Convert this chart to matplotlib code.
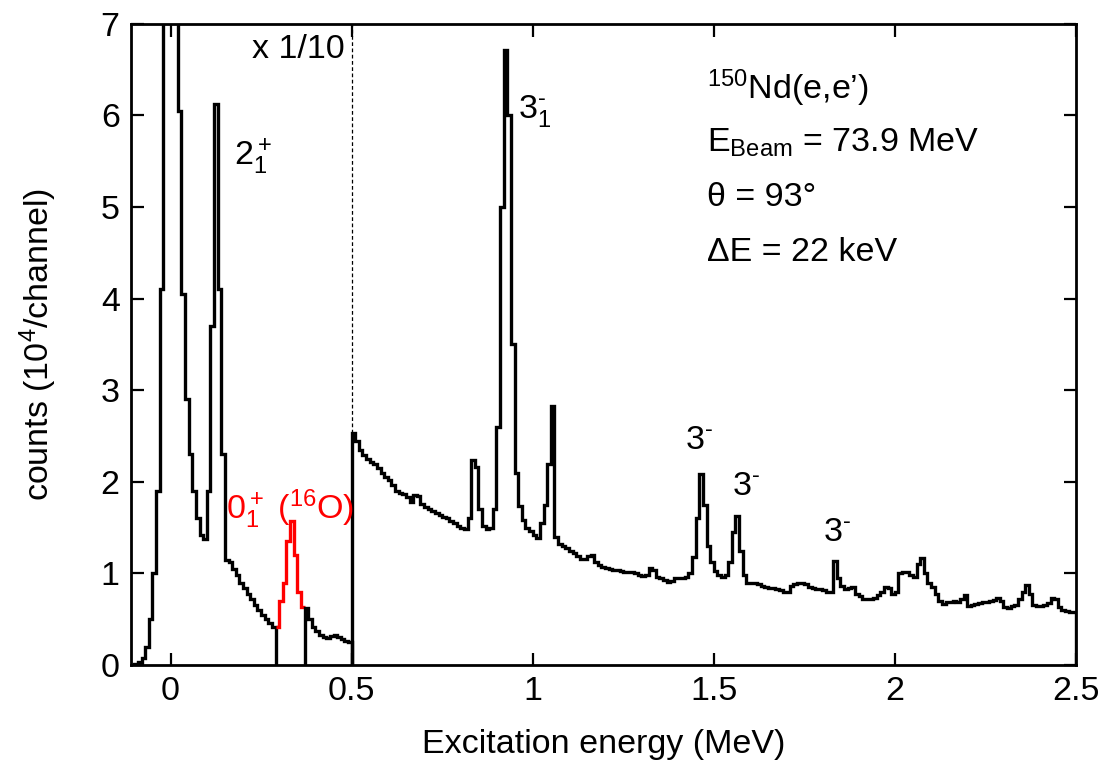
import numpy as np
import matplotlib
matplotlib.use("Agg")
import matplotlib.pyplot as plt

plt.rcParams['font.family'] = ['Liberation Sans', 'DejaVu Sans']
plt.rcParams['mathtext.fontset'] = 'custom'
plt.rcParams['mathtext.rm'] = 'Liberation Sans'
plt.rcParams['mathtext.it'] = 'Liberation Sans'
plt.rcParams['mathtext.bf'] = 'Liberation Sans:bold'

# channel width 10 keV, spectrum starts at -0.11 MeV
e_start = -0.11
bin_w = 0.01

# below 0.5 MeV the spectrum is scaled x 1/10
counts_low = [0.0, 0.01, 0.03, 0.08, 0.2, 0.5, 1.0, 1.9, 4.1, 9.0,
              12.0, 12.0, 9.0, 6.05, 4.05, 2.9, 2.3, 1.9, 1.6, 1.42,
              1.38, 1.9, 3.7, 6.12, 4.1, 2.3, 1.15, 1.12, 1.05, 0.98,
              0.9, 0.84, 0.78, 0.72, 0.66, 0.6, 0.55, 0.5, 0.46, 0.42]
# 16O ground state contamination (red)
counts_o16 = [0.42, 0.7, 0.9, 1.35, 1.57, 1.2, 0.8, 0.63]
counts_mid = [0.62, 0.5, 0.42, 0.37, 0.33, 0.31, 0.3, 0.32, 0.33, 0.31,
              0.28, 0.26, 0.25]
counts_high = [2.53, 2.45, 2.35, 2.29, 2.25, 2.22, 2.2, 2.15, 2.1, 2.05,
               2.02, 1.97, 1.9, 1.88, 1.87, 1.83, 1.78, 1.86, 1.84, 1.76,
               1.72, 1.7, 1.68, 1.66, 1.64, 1.62, 1.6, 1.57, 1.55, 1.52,
               1.5, 1.49, 1.6, 2.24, 2.16, 1.7, 1.52, 1.48, 1.5, 1.7,
               2.6, 5.0, 6.72, 6.0, 3.5, 2.1, 1.74, 1.58, 1.5, 1.46,
               1.42, 1.39, 1.55, 1.75, 2.2, 2.83, 1.4, 1.32, 1.3, 1.28,
               1.25, 1.22, 1.19, 1.16, 1.16, 1.19, 1.2, 1.12, 1.09, 1.07,
               1.06, 1.05, 1.04, 1.04, 1.03, 1.02, 1.02, 1.01, 1.0, 0.98,
               0.97, 0.98, 1.06, 1.04, 0.96, 0.95, 0.93, 0.91, 0.92, 0.95,
               0.95, 0.95, 0.96, 1.0, 1.18, 1.6, 2.09, 1.75, 1.3, 1.12,
               1.03, 0.98, 0.96, 0.98, 1.12, 1.45, 1.63, 1.25, 0.98, 0.9,
               0.89, 0.89, 0.88, 0.86, 0.85, 0.84, 0.84, 0.83, 0.82, 0.8,
               0.8, 0.86, 0.88, 0.9, 0.9, 0.88, 0.85, 0.84, 0.83, 0.83,
               0.82, 0.8, 0.8, 1.13, 0.95, 0.86, 0.83, 0.84, 0.85, 0.78,
               0.75, 0.72, 0.72, 0.72, 0.73, 0.76, 0.8, 0.85, 0.84, 0.77,
               0.8, 1.0, 1.02, 1.01, 0.98, 0.96, 1.1, 1.17, 1.0, 0.9,
               0.85, 0.78, 0.7, 0.67, 0.69, 0.69, 0.7, 0.69, 0.72, 0.76,
               0.64, 0.66, 0.67, 0.68, 0.69, 0.69, 0.7, 0.71, 0.73, 0.7,
               0.63, 0.62, 0.64, 0.66, 0.72, 0.8, 0.87, 0.78, 0.65, 0.64,
               0.64, 0.65, 0.68, 0.73, 0.72, 0.63, 0.6, 0.59, 0.58, 0.58]

segments = [counts_low, counts_o16, counts_mid, counts_high]
n_total = sum(len(s) for s in segments)
edges = np.round(e_start + bin_w * np.arange(n_total + 1), 4)

fig = plt.figure(figsize=(11.08, 7.71), dpi=100)
ax = fig.add_axes([0.118, 0.1375, 0.853, 0.8315])

lw = 2.4
i0 = 0
for k, seg in enumerate(segments):
    e = edges[i0:i0 + len(seg) + 1]
    if k == 1:
        ax.stairs(seg, e, color='red', lw=lw, baseline=None)
    else:
        ax.stairs(seg, e, color='black', lw=lw, baseline=0)
    i0 += len(seg)

# dashed separator at 0.5 MeV
ax.plot([0.5, 0.5], [counts_high[0], 7], color='black', lw=0.9,
        ls=(0, (3, 2)))

ax.set_xlim(-0.11, 2.5)
ax.set_ylim(0, 7)
ax.set_xticks([0, 0.5, 1, 1.5, 2, 2.5])
ax.set_xticklabels(['0', '0.5', '1', '1.5', '2', '2.5'])
ax.set_yticks(range(8))
ax.tick_params(direction='in', length=9, width=1.6, top=True, right=True,
               labelsize=24.5, pad=8)
for sp in ax.spines.values():
    sp.set_linewidth(2.0)

ax.set_xlabel('Excitation energy (MeV)', fontsize=24.5, labelpad=16)
ax.set_ylabel('counts (10$^4$/channel)', fontsize=24.5, labelpad=30)

fs = 24.5
hy = '\u2010'
ax.text(0.48, 6.72, 'x 1/10', fontsize=fs, ha='right', va='center')
ax.text(0.175, 5.55, '2$^+_1$', fontsize=fs, ha='left', va='center')
ax.text(0.33, 1.7, '0$^+_1$ ($^{16}$O)', fontsize=fs, ha='center',
        va='center', color='red')
ax.text(0.96, 6.05, '3$^{' + hy + '}_1$', fontsize=fs, ha='left', va='center')
ax.text(1.46, 2.45, '3$^{' + hy + '}$', fontsize=fs, ha='center', va='center')
ax.text(1.59, 1.95, '3$^{' + hy + '}$', fontsize=fs, ha='center', va='center')
ax.text(1.84, 1.45, '3$^{' + hy + '}$', fontsize=fs, ha='center', va='center')

info = ['$^{150}$Nd(e,e’)', 'E$_{\\rm Beam}$ = 73.9 MeV', 'θ = 93°',
        'ΔE = 22 keV']
for j, s in enumerate(info):
    ax.text(1.48, 6.3 - 0.6 * j, s, fontsize=fs, ha='left', va='center')

fig.savefig('out.png', dpi=100)
